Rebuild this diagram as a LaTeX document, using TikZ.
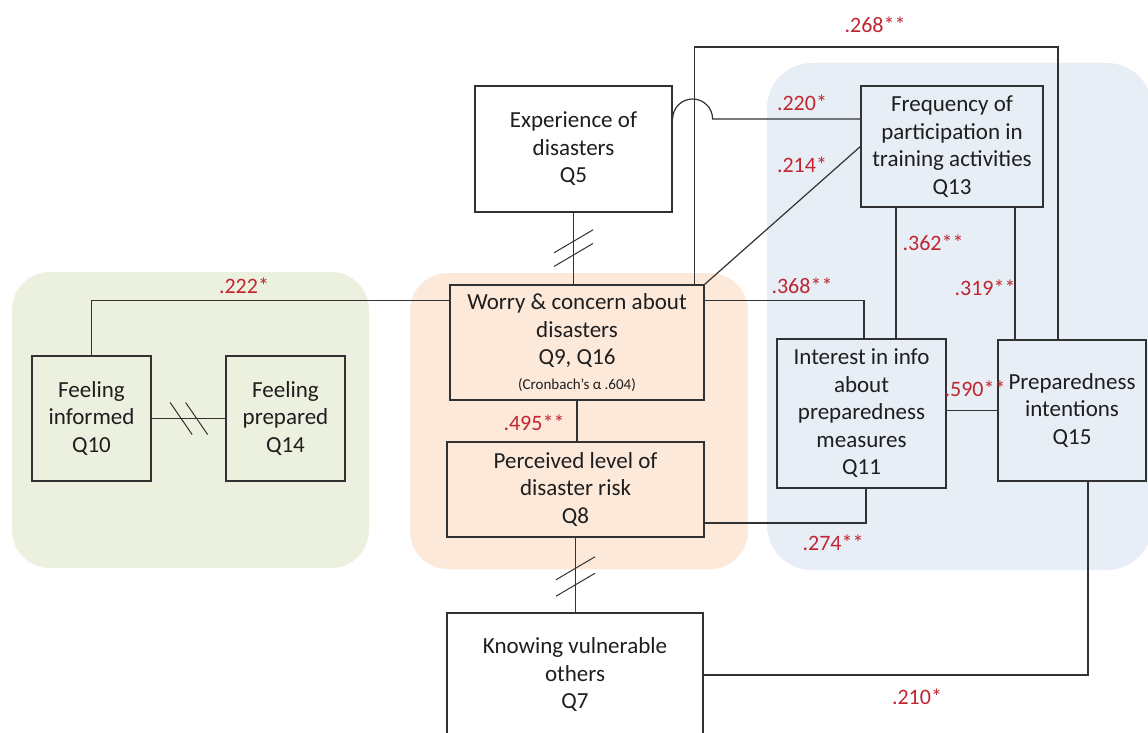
\documentclass[tikz,border=0pt]{standalone}
\usepackage{fontspec}
\setmainfont{Carlito}
\usetikzlibrary{calc}
\definecolor{ink}{RGB}{30,30,30}
\definecolor{edge}{RGB}{50,50,50}
\definecolor{corr}{RGB}{192,38,48}
\definecolor{pgreen}{RGB}{235,241,222}
\definecolor{porange}{RGB}{253,233,218}
\definecolor{pblue}{RGB}{232,238,246}
\begin{document}
\begin{tikzpicture}[x=1pt,y=1pt,
  box/.style={draw=edge,line width=1.2pt,rectangle,inner sep=0pt,align=center,text=ink,font=\fontsize{23}{27.5}\selectfont},
  conn/.style={draw=edge,line width=1.2pt},
  slash/.style={draw=edge,line width=1pt},
  lbl/.style={text=corr,font=\fontsize{22}{25}\selectfont,inner sep=0pt}]
\useasboundingbox (0,0) rectangle (1148,-733);
\clip (0,0) rectangle (1148,-733);
\fill[white] (0,0) rectangle (1148,-733);
% panels
\fill[pgreen,rounded corners=38pt] (12,-272) rectangle (369,-568);
\fill[porange,rounded corners=38pt] (410,-273) rectangle (748,-569);
\fill[pblue,rounded corners=45pt] (767,-63) rectangle (1152,-570);
% nodes
\node[box,fill=white,minimum width=197pt,minimum height=126pt] (exp) at (573.5,-149) {Experience of\\disasters\\Q5};
\node[box,minimum width=182pt,minimum height=121pt] (freq) at (952,-146.5) {Frequency of\\participation in\\training activities\\Q13};
\node[box,minimum width=254pt,minimum height=115pt] (worry) at (577,-342.5) {Worry \& concern about\\disasters\\Q9, Q16\\[-3pt]{\fontsize{15}{18}\selectfont (Cronbach’s α .604)}};
\node[box,minimum width=257pt,minimum height=95pt] (perc) at (575.5,-489.5) {Perceived level of\\disaster risk\\Q8};
\node[box,minimum width=119pt,minimum height=125pt] (fi) at (91.5,-418.5) {Feeling\\informed\\Q10};
\node[box,minimum width=119pt,minimum height=125pt] (fp) at (285.5,-418.5) {Feeling\\prepared\\Q14};
\node[box,minimum width=169pt,minimum height=149pt] (int) at (861.5,-413.5) {Interest in info\\about\\preparedness\\measures\\Q11};
\node[box,minimum width=148pt,minimum height=141pt] (prep) at (1072,-410.5) {Preparedness\\intentions\\Q15};
\node[box,fill=white,minimum width=256pt,minimum height=124pt] (know) at (575,-675) {Knowing vulnerable\\others\\Q7};
% connectors
\draw[conn] (exp.south) -- (exp.south |- worry.north);
\path (exp.south) -- (exp.south |- worry.north) coordinate[pos=0.40] (sa1) coordinate[pos=0.59] (sa2);
\draw[slash] ($(sa1)+(-19.5,-11.5)$) -- ($(sa1)+(19.5,11.5)$);
\draw[slash] ($(sa2)+(-19.5,-11.5)$) -- ($(sa2)+(19.5,11.5)$);

\draw[conn] (worry.south) -- (worry.south |- perc.north);

\draw[conn] (perc.south) -- (perc.south |- know.north);
\path (perc.south) -- (perc.south |- know.north) coordinate[pos=0.41] (sb1) coordinate[pos=0.63] (sb2);
\draw[slash] ($(sb1)+(-19.5,-11.5)$) -- ($(sb1)+(19.5,11.5)$);
\draw[slash] ($(sb2)+(-19.5,-11.5)$) -- ($(sb2)+(19.5,11.5)$);

\draw[conn] ([yshift=-16pt]worry.north west) -| (fi.north);

\draw[conn] (fi.east) -- (fp.west);
\path (fi.east) -- (fp.west) coordinate[pos=0.40] (sc1) coordinate[pos=0.61] (sc2);
\draw[slash] ($(sc1)+(-11,16)$) -- ($(sc1)+(11,-16)$);
\draw[slash] ($(sc2)+(-11,16)$) -- ($(sc2)+(11,-16)$);

\draw[conn] (worry.north east) -- (freq.west);

\coordinate (top268) at (0,-47);
\coordinate (w268) at ([xshift=-10pt]worry.north east);
\coordinate (p268) at ([xshift=-14pt]prep.north);
\draw[conn] (w268) |- (p268 |- top268) -- (p268);

\draw[conn] ([yshift=30pt]exp.east) arc (180:0:20) -- ([yshift=27.5pt]freq.west);

\coordinate (f362) at ([xshift=-56pt]freq.south);
\draw[conn] (f362) -- (f362 |- int.north);
\coordinate (f319) at ([xshift=63pt]freq.south);
\draw[conn] (f319) -- (f319 |- prep.north);

\draw[conn] ([yshift=-16pt]worry.north east) -| ([xshift=2.5pt]int.north);
\draw[conn] (int.east |- prep.west) -- (prep.west);
\draw[conn] ([yshift=-33.5pt]perc.east) -| ([xshift=4.5pt]int.south);
\draw[conn] (know.east) -| ([xshift=16pt]prep.south);
% labels
\node[lbl] (l268) at (875,-25) {.268**};
\node[lbl] (l220) at (802,-103) {.220*};
\node[lbl] (l214) at (802,-165) {.214*};
\node[lbl] (l362) at (933,-243) {.362**};
\node[lbl] (l368) at (802,-286) {.368**};
\node[lbl] (l319) at (985,-288) {.319**};
\node[lbl] (l222) at (244,-286) {.222*};
\node[lbl] (l495) at (534,-423) {.495**};
\node[lbl] (l590) at (975,-389) {.590**};
\node[lbl] (l274) at (833,-543) {.274**};
\node[lbl] (l210) at (917,-697) {.210*};
\end{tikzpicture}
\end{document}
